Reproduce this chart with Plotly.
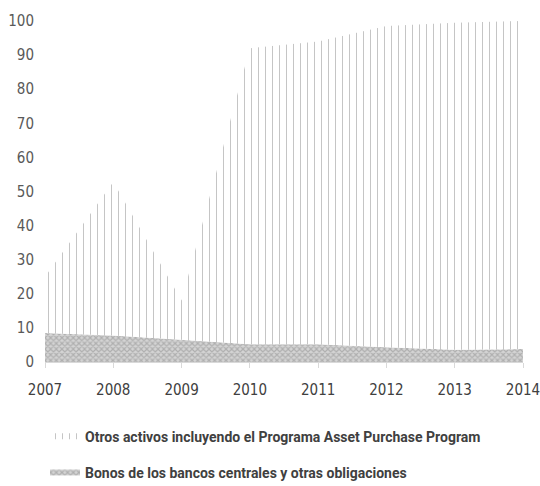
import plotly.graph_objects as go

years = [2007, 2008, 2009, 2010, 2011, 2012, 2013, 2014]
bonos = [8.5, 7.8, 6.5, 5.2, 5.2, 4.3, 3.6, 3.8]
otros = [16.5, 45.0, 11.5, 86.8, 88.8, 94.2, 95.9, 96.2]
y_ticks = [0, 10, 20, 30, 40, 50, 60, 70, 80, 90, 100]

name_bonos = "Bonos de los bancos centrales y otras obligaciones"
name_otros = "Otros activos incluyendo el Programa Asset Purchase Program"

TICKFONT = "DejaVu Sans Condensed, Roboto, sans-serif"
LEGFONT = "Roboto, DejaVu Sans Condensed, sans-serif"

totals = [b + o for b, o in zip(bonos, otros)]

fig = go.Figure()
fig.add_trace(go.Scatter(
    x=years, y=bonos, name=name_bonos, stackgroup="one", mode="none",
    fillcolor="rgba(0,0,0,0)",
    fillpattern=dict(shape="x", size=4, solidity=0.5, fgcolor="#8a8a8a", bgcolor="#d4d4d4"),
    legendgroup="b", legendrank=2, hoverinfo="skip",
))
fig.add_trace(go.Scatter(
    x=years, y=otros, name=name_otros, stackgroup="one", mode="none",
    fillcolor="rgba(0,0,0,0)",
    fillpattern=dict(shape="|", size=7, solidity=0.15, fgcolor="#8c8c8c", bgcolor="white"),
    legendgroup="a", legendrank=1, hoverinfo="skip",
))
# white horizontal gaps over the vertical lines to give them a dashed look
fig.add_trace(go.Scatter(
    x=years, y=bonos, mode="none", showlegend=False, hoverinfo="skip",
))
fig.add_trace(go.Scatter(
    x=years, y=totals, mode="none", fill="tonexty", showlegend=False, hoverinfo="skip",
    fillcolor="rgba(0,0,0,0)",
    fillpattern=dict(shape="-", size=8, solidity=0.4, fgcolor="white", bgcolor="rgba(0,0,0,0)"),
))

fig.update_layout(
    width=540, height=486,
    margin=dict(l=45, r=17, t=21, b=124, autoexpand=False),
    paper_bgcolor="white", plot_bgcolor="white",
    font=dict(family=TICKFONT, color="#595959", size=14),
    showlegend=True,
    legend=dict(
        orientation="v", x=0.0, xanchor="left", y=-0.172, yanchor="top",
        font=dict(family=LEGFONT, size=14, color="#404040", weight="bold"),
        tracegroupgap=15, itemwidth=30,
    ),
    xaxis=dict(
        range=[2007, 2014], tickmode="array", tickvals=years,
        showgrid=False, zeroline=False, showline=True, linecolor="#d9d9d9",
        ticks="outside", ticklen=5, tickcolor="#d9d9d9", ticklabelstandoff=9,
        ticklabeloverflow="allow",
        tickfont=dict(family=TICKFONT, size=15, color="#404040"),
    ),
    yaxis=dict(
        range=[0, 100], tickmode="array", tickvals=y_ticks,
        showgrid=False, zeroline=False, showline=False, ticklabelstandoff=10,
        tickfont=dict(family=TICKFONT, size=15, color="#595959"),
    ),
)

fig.write_html("out.html")
